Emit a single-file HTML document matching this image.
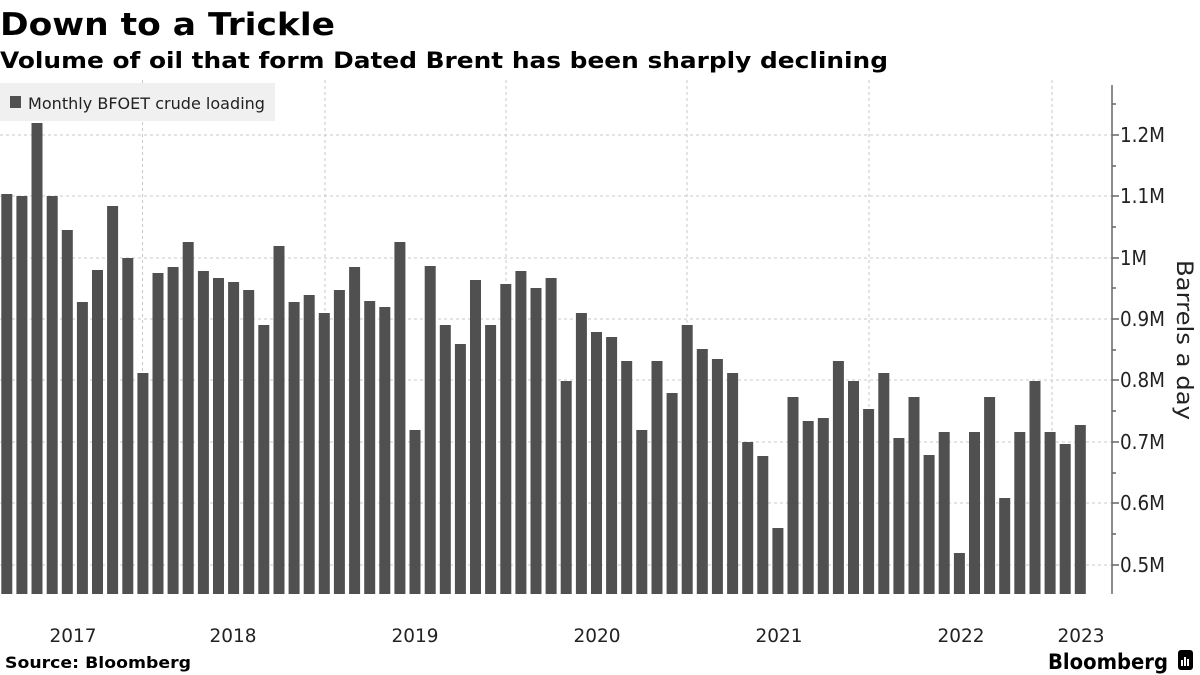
<!DOCTYPE html>
<html><head><meta charset="utf-8"><style>
html,body{margin:0;padding:0;background:#fff;}
body{width:1200px;height:675px;overflow:hidden;position:relative;font-family:"DejaVu Sans","Liberation Sans",sans-serif;}
</style></head><body>
<svg width="1200" height="675" xmlns="http://www.w3.org/2000/svg" style="position:absolute;left:0;top:0">
<text x="0" y="35" font-family="DejaVu Sans, sans-serif" font-weight="bold" font-size="31" fill="#000" textLength="335" lengthAdjust="spacingAndGlyphs">Down to a Trickle</text>
<text x="0" y="68" font-family="DejaVu Sans, sans-serif" font-weight="bold" font-size="22" fill="#000" textLength="888" lengthAdjust="spacingAndGlyphs">Volume of oil that form Dated Brent has been sharply declining</text>
<g stroke="#c8c8c8" stroke-width="1" stroke-dasharray="3,3">
<line x1="0" x2="1112" y1="135" y2="135"/><line x1="0" x2="1112" y1="196" y2="196"/><line x1="0" x2="1112" y1="258" y2="258"/><line x1="0" x2="1112" y1="319" y2="319"/><line x1="0" x2="1112" y1="380" y2="380"/><line x1="0" x2="1112" y1="442" y2="442"/><line x1="0" x2="1112" y1="503" y2="503"/><line x1="0" x2="1112" y1="565" y2="565"/>
<line x1="142.5" x2="142.5" y1="80" y2="594"/><line x1="325" x2="325" y1="80" y2="594"/><line x1="506" x2="506" y1="80" y2="594"/><line x1="687" x2="687" y1="80" y2="594"/><line x1="869" x2="869" y1="80" y2="594"/><line x1="1052" x2="1052" y1="80" y2="594"/>
</g>
<g id="bars" fill="#505050"></g>
<rect x="0" y="83" width="275" height="38" fill="#f0f0f0"/>
<rect x="10" y="96" width="11" height="12" fill="#505050"/>
<text x="28" y="109" font-size="16" fill="#222" textLength="237" lengthAdjust="spacingAndGlyphs">Monthly BFOET crude loading</text>
<line x1="1112" x2="1112" y1="85" y2="594" stroke="#666" stroke-width="1.5"/>
<g stroke="#666" stroke-width="1.5">
<line x1="1112" x2="1119" y1="135" y2="135"/><line x1="1112" x2="1119" y1="196" y2="196"/><line x1="1112" x2="1119" y1="258" y2="258"/><line x1="1112" x2="1119" y1="319" y2="319"/><line x1="1112" x2="1119" y1="380" y2="380"/><line x1="1112" x2="1119" y1="442" y2="442"/><line x1="1112" x2="1119" y1="503" y2="503"/><line x1="1112" x2="1119" y1="565" y2="565"/>
<line x1="1112" x2="1116" y1="104" y2="104"/><line x1="1112" x2="1116" y1="166" y2="166"/><line x1="1112" x2="1116" y1="227" y2="227"/><line x1="1112" x2="1116" y1="288" y2="288"/><line x1="1112" x2="1116" y1="350" y2="350"/><line x1="1112" x2="1116" y1="411" y2="411"/><line x1="1112" x2="1116" y1="473" y2="473"/><line x1="1112" x2="1116" y1="534" y2="534"/>
</g>
<g font-size="20" fill="#222">
<text x="1120" y="142" textLength="45" lengthAdjust="spacingAndGlyphs">1.2M</text><text x="1120" y="203" textLength="45" lengthAdjust="spacingAndGlyphs">1.1M</text><text x="1120" y="265" textLength="27" lengthAdjust="spacingAndGlyphs">1M</text><text x="1120" y="326" textLength="45" lengthAdjust="spacingAndGlyphs">0.9M</text><text x="1120" y="387" textLength="45" lengthAdjust="spacingAndGlyphs">0.8M</text><text x="1120" y="449" textLength="45" lengthAdjust="spacingAndGlyphs">0.7M</text><text x="1120" y="510" textLength="45" lengthAdjust="spacingAndGlyphs">0.6M</text><text x="1120" y="572" textLength="45" lengthAdjust="spacingAndGlyphs">0.5M</text>
</g>
<text transform="translate(1177,340) rotate(90)" text-anchor="middle" font-size="22" fill="#222" textLength="160" lengthAdjust="spacingAndGlyphs">Barrels a day</text>
<g font-size="19" fill="#222" text-anchor="middle">
<text x="73" y="642" textLength="47" lengthAdjust="spacingAndGlyphs">2017</text><text x="233" y="642" textLength="47" lengthAdjust="spacingAndGlyphs">2018</text><text x="415" y="642" textLength="47" lengthAdjust="spacingAndGlyphs">2019</text><text x="597" y="642" textLength="47" lengthAdjust="spacingAndGlyphs">2020</text><text x="779" y="642" textLength="47" lengthAdjust="spacingAndGlyphs">2021</text><text x="961" y="642" textLength="47" lengthAdjust="spacingAndGlyphs">2022</text><text x="1081" y="642" textLength="47" lengthAdjust="spacingAndGlyphs">2023</text>
</g>
<text x="5" y="668" font-weight="bold" font-size="16" fill="#000" textLength="186" lengthAdjust="spacingAndGlyphs">Source: Bloomberg</text>
<text x="1048" y="669" font-weight="bold" font-size="21" fill="#000" textLength="120" lengthAdjust="spacingAndGlyphs">Bloomberg</text>
<rect x="1178" y="650" width="15" height="20" rx="3" fill="#000"/>
<g fill="#fff"><rect x="1181" y="660" width="2" height="6"/><rect x="1184" y="657" width="2" height="9"/><rect x="1187" y="659" width="2" height="7"/></g>
</svg>
<script>
var tops=[194,196,123,196,230,302,270,206,258,373,273,267,242,271,278,282,290,325,246,302,295,313,290,267,301,307,242,430,266,325,344,280,325,284,271,288,278,381,313,332,337,361,430,361,393,325,349,359,373,442,456,528,397,421,418,361,381,409,373,438,397,455,432,553,432,397,498,432,381,432,444,425];
var g=document.getElementById('bars'),s='';
for(var i=0;i<tops.length;i++){var x=1.3+i*15.12;s+='<rect x="'+x.toFixed(1)+'" y="'+tops[i]+'" width="11" height="'+(594-tops[i])+'"/>';}
g.innerHTML=s;
</script>
</body></html>
